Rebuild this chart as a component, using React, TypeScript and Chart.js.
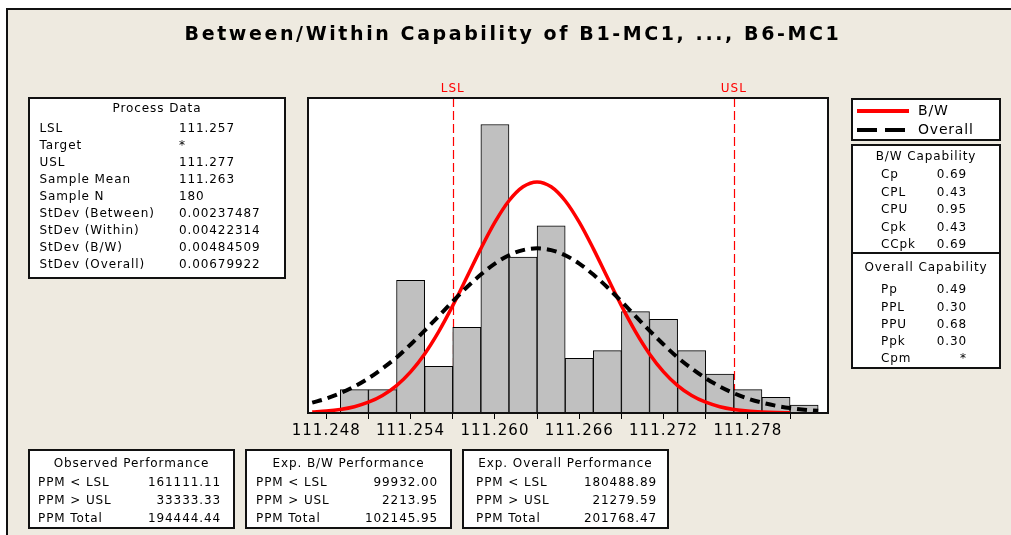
import React, { useEffect, useRef } from 'react';
import { Chart, registerables } from 'chart.js';

Chart.register(...registerables);

// ---------- data ----------
const binCenters = [111.250, 111.252, 111.254, 111.256, 111.258, 111.260, 111.262, 111.264, 111.266, 111.268, 111.270, 111.272, 111.274, 111.276, 111.278, 111.280, 111.282];
const binCounts = [3, 3, 17, 6, 11, 37, 20, 24, 7, 8, 13, 12, 8, 5, 3, 2, 1];

const curveX = [111.247, 111.248, 111.249, 111.250, 111.251, 111.252, 111.253, 111.254, 111.255, 111.256, 111.257, 111.258, 111.259, 111.260, 111.261, 111.262, 111.263, 111.264, 111.265, 111.266, 111.267, 111.268, 111.269, 111.270, 111.271, 111.272, 111.273, 111.274, 111.275, 111.276, 111.277, 111.278, 111.279, 111.280, 111.281, 111.282, 111.283];
const bwFit = [0.13, 0.25, 0.46, 0.81, 1.38, 2.25, 3.52, 5.28, 7.58, 10.44, 13.77, 17.40, 21.08, 24.47, 27.22, 29.01, 29.64, 29.01, 27.22, 24.47, 21.08, 17.40, 13.77, 10.44, 7.58, 5.28, 3.52, 2.25, 1.38, 0.81, 0.46, 0.25, 0.13, 0.06, 0.03];
const overallFit = [1.33, 1.85, 2.54, 3.40, 4.45, 5.71, 7.12, 8.79, 10.57, 12.43, 14.31, 16.12, 17.76, 19.16, 20.23, 20.89, 21.12, 20.89, 20.23, 19.16, 17.76, 16.12, 14.31, 12.43, 10.57, 8.79, 7.12, 5.71, 4.45, 3.40, 2.54, 1.85, 1.33, 0.93, 0.64, 0.43, 0.28];

const LSL = 111.257;
const USL = 111.277;
const xMin = 111.2467;
const xMax = 111.2837;
const yMax = 40.4;

const tickValues = [111.248, 111.251, 111.254, 111.257, 111.260, 111.263, 111.266, 111.269, 111.272, 111.275, 111.278, 111.281];
const tickLabels = ['111.248', '', '111.254', '', '111.260', '', '111.266', '', '111.272', '', '111.278', ''];

const titleText = 'Between/Within Capability of B1-MC1, ..., B6-MC1';

const processLabels = ['LSL', 'Target', 'USL', 'Sample Mean', 'Sample N', 'StDev (Between)', 'StDev (Within)', 'StDev (B/W)', 'StDev (Overall)'];
const processValues = ['111.257', '*', '111.277', '111.263', '180', '0.00237487', '0.00422314', '0.00484509', '0.00679922'];

const bwCapLabels = ['Cp', 'CPL', 'CPU', 'Cpk', 'CCpk'];
const bwCapValues = ['0.69', '0.43', '0.95', '0.43', '0.69'];
const ovCapLabels = ['Pp', 'PPL', 'PPU', 'Ppk', 'Cpm'];
const ovCapValues = ['0.49', '0.30', '0.68', '0.30', '*'];

const perfTitles = ['Observed Performance', 'Exp. B/W Performance', 'Exp. Overall Performance'];
const perfLabels = ['PPM < LSL', 'PPM > USL', 'PPM Total'];
const perfValues = [
  ['161111.11', '33333.33', '194444.44'],
  ['99932.00', '2213.95', '102145.95'],
  ['180488.89', '21279.59', '201768.47'],
];

// ---------- helpers ----------
const FONT = '"DejaVu Sans", sans-serif';

type TP = { x: number; y: number; text: string; align?: 'left' | 'center' | 'right'; size?: number; color?: string; weight?: any; family?: string; spacing?: number };
function T({ x, y, text, align = 'left', size = 12, color = '#000', weight = 'normal', family = FONT, spacing = 0.9 }: TP) {
  const lh = size + 6;
  const w = 800;
  let left = x;
  if (align === 'center') left = x - w / 2;
  else if (align === 'right') left = x - w;
  return (
    <div style={{ position: 'absolute', left, top: y - lh / 2, width: w, height: lh, lineHeight: lh + 'px', fontSize: size, fontFamily: family, fontWeight: weight, color, letterSpacing: spacing, textAlign: align, whiteSpace: 'pre' }}>{text}</div>
  );
}

function Box({ l, t, r, b }: { l: number; t: number; r: number; b: number }) {
  return <div style={{ position: 'absolute', left: l, top: t, width: r - l, height: b - t, background: '#fff', border: '2px solid #111', boxSizing: 'border-box' }} />;
}

function Bar({ l, t, w, h, c }: { l: number; t: number; w: number; h: number; c: string }) {
  return <div style={{ position: 'absolute', left: l, top: t, width: w, height: h, background: c }} />;
}

const specPlugin = {
  id: 'specPlugin',
  beforeDraw(chart: any) {
    const { ctx, chartArea } = chart;
    ctx.letterSpacing = '1px';
    ctx.save();
    ctx.fillStyle = '#fff';
    ctx.fillRect(chartArea.left, chartArea.top, chartArea.right - chartArea.left, chartArea.bottom - chartArea.top);
    ctx.restore();
  },
  beforeDatasetsDraw(chart: any) {
    const { ctx, chartArea, scales } = chart;
    ctx.save();
    ctx.strokeStyle = '#FF0000';
    ctx.lineWidth = 1.2;
    ctx.setLineDash([9, 4]);
    [LSL, USL].forEach((v) => {
      const x = Math.round(scales.x.getPixelForValue(v)) + 0.5;
      ctx.beginPath();
      ctx.moveTo(x, chartArea.top);
      ctx.lineTo(x, chartArea.bottom);
      ctx.stroke();
    });
    ctx.restore();
  },
  afterDraw(chart: any) {
    const { ctx, chartArea, scales } = chart;
    ctx.save();
    ctx.setLineDash([]);
    ctx.strokeStyle = '#111';
    ctx.lineWidth = 2;
    ctx.strokeRect(chartArea.left, chartArea.top, chartArea.right - chartArea.left, chartArea.bottom - chartArea.top);
    ctx.fillStyle = '#FF0000';
    ctx.font = '12px "DejaVu Sans"';
    ctx.letterSpacing = '1px';
    ctx.textAlign = 'center';
    ctx.textBaseline = 'middle';
    ctx.fillText('LSL', scales.x.getPixelForValue(LSL), chartArea.top - 9);
    ctx.fillText('USL', scales.x.getPixelForValue(USL), chartArea.top - 9);
    ctx.restore();
  },
};

export default function App() {
  const ref = useRef<HTMLCanvasElement | null>(null);

  useEffect(() => {
    if (!ref.current) return;
    const chart = new Chart(ref.current, {
      type: 'bar',
      data: {
        datasets: [
          {
            type: 'line',
            label: 'Overall',
            data: curveX.map((x, i) => ({ x, y: overallFit[i] })),
            borderColor: '#000',
            borderWidth: 4,
            borderDash: [10, 6],
            pointRadius: 0,
            fill: false,
            cubicInterpolationMode: 'monotone',
            order: 1,
          } as any,
          {
            type: 'line',
            label: 'B/W',
            data: bwFit.map((y, i) => ({ x: curveX[i], y })),
            borderColor: '#FF0000',
            borderWidth: 3.5,
            pointRadius: 0,
            fill: false,
            cubicInterpolationMode: 'monotone',
            order: 2,
          } as any,
          {
            type: 'bar',
            label: 'Counts',
            data: binCenters.map((x, i) => ({ x, y: binCounts[i] })),
            backgroundColor: '#C0C0C0',
            borderColor: '#000',
            borderWidth: 1,
            barPercentage: 1,
            categoryPercentage: 1,
            order: 3,
          } as any,
        ],
      },
      options: {
        responsive: false,
        animation: false,
        devicePixelRatio: 1,
        layout: { padding: { left: 308, right: 183, top: 98, bottom: 82 } },
        plugins: { legend: { display: false }, tooltip: { enabled: false }, title: { display: false } },
        scales: {
          x: {
            type: 'linear',
            offset: false,
            min: xMin,
            max: xMax,
            afterBuildTicks: (s: any) => {
              s.ticks = tickValues.map((v) => ({ value: v }));
            },
            afterFit: (s: any) => {
              s.height = 40;
            },
            ticks: {
              autoSkip: false,
              maxRotation: 0,
              padding: 3,
              color: '#000',
              font: { family: '"DejaVu Sans"', size: 15 },
              callback: (v: any) => {
                const i = tickValues.findIndex((t) => Math.abs(t - v) < 1e-6);
                return i >= 0 ? tickLabels[i] : '';
              },
            },
            grid: { display: true, offset: false, drawOnChartArea: false, drawTicks: true, tickLength: 6, color: '#000', lineWidth: 1 },
            border: { display: true, color: '#000', width: 2 },
          },
          y: { type: 'linear', display: false, min: 0, max: yMax },
        },
      } as any,
      plugins: [specPlugin],
    });
    return () => chart.destroy();
  }, []);

  const pdY0 = 127.7, pdStep = 17.05;
  const capY0 = 174.3, capStep = 17.4;
  const ovY0 = 289.3, ovStep = 17.25;
  const perfBoxes = [
    { l: 28, r: 235, lab: 38, val: 221 },
    { l: 245, r: 452, lab: 256, val: 438 },
    { l: 462, r: 669, lab: 476, val: 657 },
  ];
  const perfRowY = [481.7, 500, 518.3];

  return (
    <div style={{ position: 'absolute', left: 0, top: 0, width: 1011, height: 535, background: '#fff', overflow: 'hidden' }}>
      <div style={{ position: 'absolute', left: 6, top: 8, width: 1011 - 6, height: 535 - 8, background: '#EEEAE0', borderTop: '2px solid #111', borderLeft: '2px solid #111', boxSizing: 'border-box' }} />
      <canvas ref={ref} width={1011} height={535} style={{ position: 'absolute', left: 0, top: 0, width: 1011, height: 535 }} />

      <T x={513} y={33} text={titleText} align="center" size={19} weight="bold" spacing={2.6} />

      {/* Process data */}
      <Box l={28} t={97} r={286} b={279} />
      <T x={157} y={108} text="Process Data" align="center" />
      {processLabels.map((s, i) => <T key={'pl' + i} x={39.5} y={pdY0 + i * pdStep} text={s} />)}
      {processValues.map((s, i) => <T key={'pv' + i} x={179} y={pdY0 + i * pdStep} text={s} />)}

      {/* Legend */}
      <Box l={851} t={98} r={1001} b={141} />
      <Bar l={857} t={109} w={52} h={4} c="#FF0000" />
      <T x={918} y={110} text="B/W" size={14} spacing={0.8} />
      <Bar l={857} t={127.5} w={20} h={4} c="#000" />
      <Bar l={885} t={127.5} w={20} h={4} c="#000" />
      <T x={918} y={129} text="Overall" size={14} spacing={0.8} />

      {/* Capability */}
      <Box l={851} t={144} r={1001} b={369} />
      <div style={{ position: 'absolute', left: 851, top: 252, width: 150, height: 2, background: '#111' }} />
      <T x={926} y={155.7} text="B/W Capability" align="center" />
      {bwCapLabels.map((s, i) => <T key={'bl' + i} x={881} y={capY0 + i * capStep} text={s} />)}
      {bwCapValues.map((s, i) => <T key={'bv' + i} x={967} y={capY0 + i * capStep} text={s} align="right" />)}
      <T x={926} y={266.7} text="Overall Capability" align="center" />
      {ovCapLabels.map((s, i) => <T key={'ol' + i} x={881} y={ovY0 + i * ovStep} text={s} />)}
      {ovCapValues.map((s, i) => <T key={'ov' + i} x={967} y={ovY0 + i * ovStep} text={s} align="right" />)}

      {/* Performance */}
      {perfBoxes.map((b, k) => (
        <React.Fragment key={'pb' + k}>
          <Box l={b.l} t={449} r={b.r} b={529} />
          <T x={(b.l + b.r) / 2} y={463.3} text={perfTitles[k]} align="center" />
          {perfLabels.map((s, i) => <T key={'pfl' + i} x={b.lab} y={perfRowY[i]} text={s} />)}
          {perfValues[k].map((s, i) => <T key={'pfv' + i} x={b.val} y={perfRowY[i]} text={s} align="right" />)}
        </React.Fragment>
      ))}
    </div>
  );
}
